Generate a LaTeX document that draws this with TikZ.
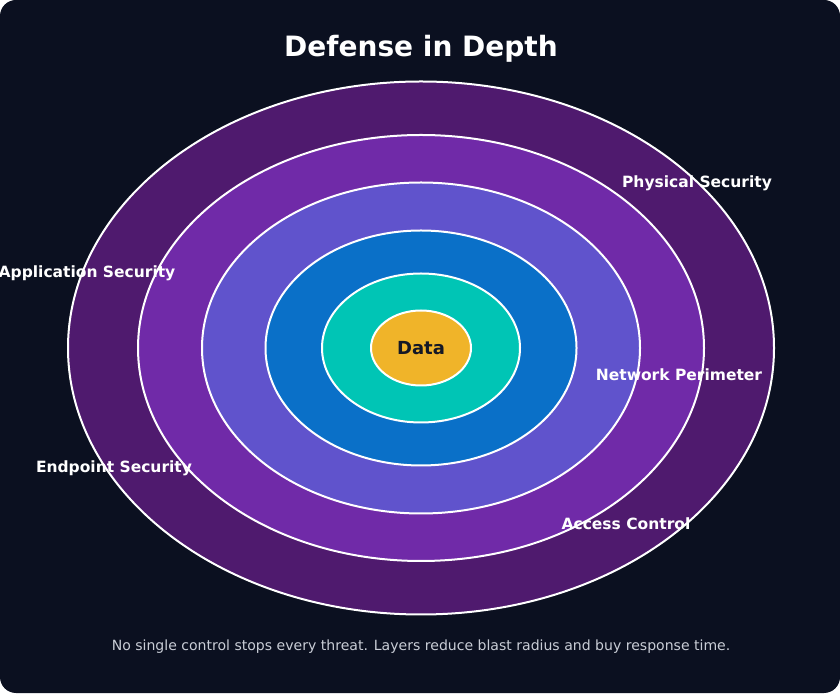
\documentclass[tikz,border=0pt]{standalone}
\usepackage{fontspec}
\setmainfont{DejaVu Sans}
\usetikzlibrary{shapes.geometric}
\definecolor{bgc}{HTML}{0B1020}
\definecolor{ringA}{HTML}{4F1A6E}
\definecolor{ringB}{HTML}{702AA8}
\definecolor{ringC}{HTML}{6053CC}
\definecolor{ringD}{HTML}{0A70C8}
\definecolor{ringE}{HTML}{00C5B5}
\definecolor{core}{HTML}{F0B429}
\definecolor{coretext}{HTML}{141826}
\definecolor{foot}{HTML}{C9CDD6}
\tikzset{
  ring/.style={ellipse, draw=white, line width=2pt, inner sep=0pt, outer sep=0pt},
  layerlabel/.style={text=white, font=\bfseries\fontsize{15.5}{18}\selectfont, inner sep=0pt},
}
\begin{document}
\begin{tikzpicture}[x=1pt,y=1pt]
\fill[white] (0,0) rectangle (840,693);
\fill[bgc, rounded corners=16pt] (0,0) rectangle (840,693);
\useasboundingbox (0,0) rectangle (840,693);
\node[ring, fill=ringA, minimum width=706pt, minimum height=533pt] (physical) at (421,345) {};
\node[ring, fill=ringB, minimum width=566pt, minimum height=426pt] (access) at (421,345) {};
\node[ring, fill=ringC, minimum width=438pt, minimum height=331pt] (network) at (421,345) {};
\node[ring, fill=ringD, minimum width=311pt, minimum height=235pt] (endpoint) at (421,345) {};
\node[ring, fill=ringE, minimum width=198pt, minimum height=149pt] (application) at (421,345) {};
\node[ring, fill=core, minimum width=100pt, minimum height=75pt, text=coretext, font=\bfseries\fontsize{18}{20}\selectfont] (data) at (421,345) {Data};
\node[text=white, font=\bfseries\fontsize{28}{32}\selectfont] (title) at (421,644) {Defense in Depth};
\node[layerlabel] (lphysical) at (697,510) {Physical Security};
\node[layerlabel] (lapplication) at (87,420) {Application Security};
\node[layerlabel] (lnetwork) at (679,318) {Network Perimeter};
\node[layerlabel] (lendpoint) at (114,225) {Endpoint Security};
\node[layerlabel] (laccess) at (626,169) {Access Control};
\node[text=foot, font=\fontsize{14.05}{16}\selectfont] (footer) at (421,46) {No single control stops every threat. Layers reduce blast radius and buy response time.};
\end{tikzpicture}
\end{document}
